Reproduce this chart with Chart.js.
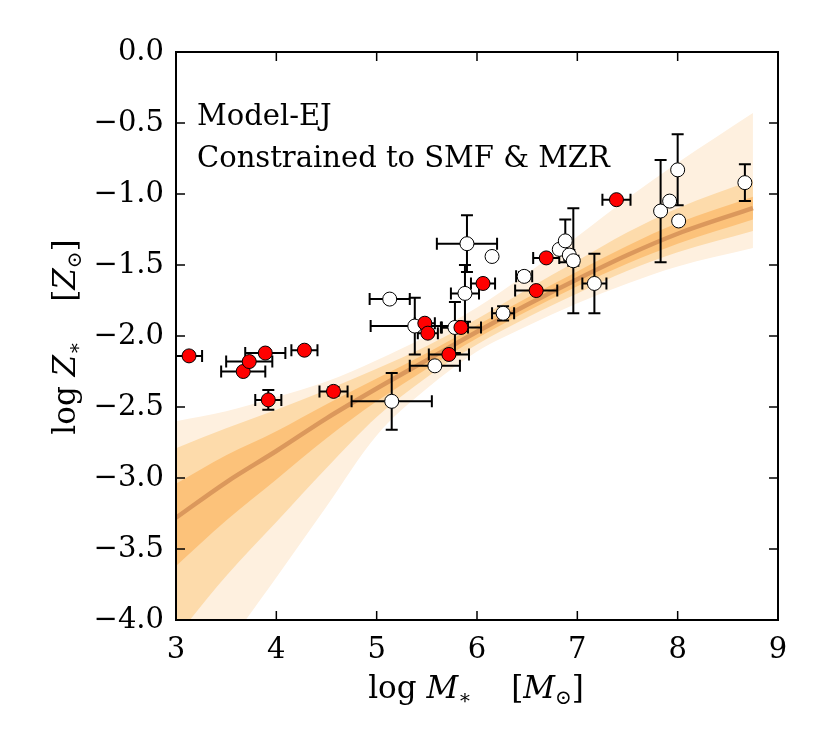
<!DOCTYPE html>
<html>
<head>
<meta charset="utf-8">
<script src="https://cdn.jsdelivr.net/npm/chart.js@4"></script>
<style>
body{margin:0;background:#fff;}
canvas{display:block;}
</style>
</head>
<body>
<canvas id="c" width="825" height="750"></canvas>
<script>
// model band, sampled along log M*
const bandX  = [3, 3.5, 4, 4.5, 5, 5.5, 6, 6.5, 7, 7.5, 8, 8.75];
const median = [-3.28, -3.03, -2.81, -2.58, -2.37, -2.17, -1.97, -1.78, -1.60, -1.43, -1.28, -1.10];
const sig1Hi = [-3.04, -2.84, -2.67, -2.48, -2.30, -2.12, -1.925, -1.73, -1.545, -1.365, -1.205, -1.02];
const sig1Lo = [-3.62, -3.30, -3.01, -2.72, -2.46, -2.23, -2.015, -1.825, -1.65, -1.49, -1.35, -1.18];
const sig2Hi = [-2.79, -2.65, -2.52, -2.38, -2.23, -2.07, -1.88, -1.67, -1.47, -1.27, -1.10, -0.90];
const sig2Lo = [-4.12, -3.69, -3.31, -2.93, -2.57, -2.29, -2.06, -1.87, -1.70, -1.54, -1.41, -1.26];
const sig3Hi = [-2.60, -2.53, -2.43, -2.32, -2.17, -2.00, -1.80, -1.56, -1.30, -1.03, -0.78, -0.43];
const sig3Lo = [-4.78, -4.20, -3.70, -3.20, -2.70, -2.37, -2.11, -1.93, -1.77, -1.63, -1.51, -1.38];

// open circles
const whiteX    = [5.15, 5.38, 5.13, 5.58, 5.78, 5.90, 5.88, 6.15, 6.26, 6.47, 6.82, 6.88, 6.92, 6.96, 7.17, 7.83, 7.92, 8.00, 8.01, 8.67];
const whiteY    = [-2.46, -1.93, -1.74, -2.21, -1.94, -1.35, -1.70, -1.44, -1.84, -1.58, -1.39, -1.33, -1.43, -1.47, -1.63, -1.12, -1.05, -0.83, -1.19, -0.92];
const whiteXErr = [0.40, 0.44, 0.20, 0.25, 0.13, 0.30, 0.14, 0, 0.11, 0.08, 0, 0, 0.05, 0.05, 0.12, 0, 0, 0, 0.03, 0];
const whiteYErr = [0.20, 0.20, 0, 0, 0.18, 0.20, 0.20, 0, 0.05, 0.03, 0, 0.15, 0, 0.37, 0.21, 0.36, 0, 0.25, 0.02, 0.13];

// red circles
const redX    = [3.13, 3.67, 3.73, 3.89, 3.92, 4.28, 4.57, 5.48, 5.51, 5.84, 5.72, 6.06, 6.59, 6.69, 7.39];
const redY    = [-2.14, -2.25, -2.18, -2.12, -2.45, -2.10, -2.39, -1.91, -1.98, -1.94, -2.13, -1.63, -1.68, -1.45, -1.04];
const redXErr = [0.13, 0.22, 0.23, 0.20, 0.13, 0.13, 0.14, 0.10, 0.10, 0.20, 0.20, 0.12, 0.21, 0.13, 0.14];
const redYErr = [0.02, 0, 0, 0.02, 0.07, 0.02, 0.03, 0, 0, 0, 0, 0, 0, 0, 0];

const SERIF = "'DejaVu Serif', serif";

function pts(xs, ys){
    return xs.map((x, i) => ({x: x, y: ys[i]}));
}

function band(ys, color, fill, order){
    return {
        data: pts(bandX, ys),
        borderWidth: 0,
        pointRadius: 0,
        backgroundColor: color,
        fill: fill,
        cubicInterpolationMode: 'monotone',
        order: order
    };
}

function drawErrors(ctx, xs, ys, xe, ye, sx, sy){
    const cap = 6;
    ctx.strokeStyle = '#000';
    ctx.lineWidth = 2;
    for(let i=0;i<xs.length;i++){
        const px = sx.getPixelForValue(xs[i]);
        const py = sy.getPixelForValue(ys[i]);
        ctx.beginPath();
        if(xe[i] > 0){
            const a = sx.getPixelForValue(xs[i]-xe[i]);
            const b = sx.getPixelForValue(xs[i]+xe[i]);
            ctx.moveTo(a, py); ctx.lineTo(b, py);
            ctx.moveTo(a, py-cap); ctx.lineTo(a, py+cap);
            ctx.moveTo(b, py-cap); ctx.lineTo(b, py+cap);
        }
        if(ye[i] > 0){
            const a = sy.getPixelForValue(ys[i]-ye[i]);
            const b = sy.getPixelForValue(ys[i]+ye[i]);
            ctx.moveTo(px, a); ctx.lineTo(px, b);
            ctx.moveTo(px-cap, a); ctx.lineTo(px+cap, a);
            ctx.moveTo(px-cap, b); ctx.lineTo(px+cap, b);
        }
        ctx.stroke();
    }
}

const errorBars = {
    id: 'errorBars',
    beforeDatasetDraw(chart, args){
        if(args.index !== 7) return;
        const ctx = chart.ctx;
        ctx.save();
        drawErrors(ctx, whiteX, whiteY, whiteXErr, whiteYErr, chart.scales.x, chart.scales.y);
        drawErrors(ctx, redX, redY, redXErr, redYErr, chart.scales.x, chart.scales.y);
        ctx.restore();
    }
};

// runs of text: [string, font, dy]
function drawRuns(ctx, runs, cx, cy){
    let w = 0;
    runs.forEach(r => { ctx.font = r[1]; w += ctx.measureText(r[0]).width; });
    let x = cx - w/2;
    runs.forEach(r => {
        ctx.font = r[1];
        ctx.fillText(r[0], x, cy + (r[2]||0));
        x += ctx.measureText(r[0]).width;
    });
}

const frame = {
    id: 'frame',
    afterDraw(chart){
        const ctx = chart.ctx;
        const a = chart.chartArea;
        const sx = chart.scales.x, sy = chart.scales.y;
        ctx.save();
        ctx.strokeStyle = '#000';
        ctx.lineWidth = 1.5;
        const t = 9;
        ctx.beginPath();
        sx.ticks.forEach(tk => {
            const p = sx.getPixelForValue(tk.value);
            ctx.moveTo(p, a.bottom); ctx.lineTo(p, a.bottom - t);
            ctx.moveTo(p, a.top); ctx.lineTo(p, a.top + t);
        });
        sy.ticks.forEach(tk => {
            const p = sy.getPixelForValue(tk.value);
            ctx.moveTo(a.left, p); ctx.lineTo(a.left + t, p);
            ctx.moveTo(a.right, p); ctx.lineTo(a.right - t, p);
        });
        ctx.stroke();
        ctx.lineWidth = 2;
        ctx.strokeRect(a.left, a.top, a.right - a.left, a.bottom - a.top);

        ctx.fillStyle = '#000';
        ctx.textBaseline = 'alphabetic';
        ctx.textAlign = 'left';
        ctx.font = '29px ' + SERIF;
        ctx.fillText('Model-EJ', 197, 125);
        ctx.fillText('Constrained to SMF & MZR', 197, 167);

        const big = '31px ' + SERIF, it = 'italic 31px ' + SERIF, sm = '20px ' + SERIF;
        drawRuns(ctx, [['log ', big], ['M', it], ['\u2217', sm, 6], ['    [', big], ['M', it], ['\u2299', sm, 6], [']', big]], 476, 698);

        ctx.translate(75, 337);
        ctx.rotate(-Math.PI/2);
        drawRuns(ctx, [['log ', big], ['Z', it], ['\u2217', sm, 6], ['    [', big], ['Z', it], ['\u2299', sm, 6], [']', big]], 0, 0);
        ctx.restore();
    }
};

new Chart(document.getElementById('c'), {
    type: 'line',
    data: {
        datasets: [
            band(sig3Hi, '#fef0df', '+1', 20),
            band(sig3Lo, '#fef0df', false, 19),
            band(sig2Hi, '#fddbab', '+1', 18),
            band(sig2Lo, '#fddbab', false, 17),
            band(sig1Hi, '#fcc27a', '+1', 16),
            band(sig1Lo, '#fcc27a', false, 15),
            {
                data: pts(bandX, median),
                borderColor: '#db985c',
                borderWidth: 4.5,
                pointRadius: 0,
                fill: false,
                cubicInterpolationMode: 'monotone',
                order: 14
            },
            {
                data: pts(whiteX, whiteY),
                showLine: false,
                pointRadius: 7,
                pointBackgroundColor: '#ffffff',
                pointBorderColor: '#000',
                pointBorderWidth: 1,
                order: 2
            },
            {
                data: pts(redX, redY),
                showLine: false,
                pointRadius: 7,
                pointBackgroundColor: '#ff0000',
                pointBorderColor: '#000',
                pointBorderWidth: 1,
                order: 1
            }
        ]
    },
    options: {
        responsive: false,
        animation: false,
        layout: { padding: { left: 0, top: 52, right: 47, bottom: 0 } },
        plugins: { legend: { display: false }, tooltip: { enabled: false } },
        scales: {
            x: {
                type: 'linear', min: 3, max: 9,
                grid: { display: false, drawTicks: false },
                border: { display: false },
                ticks: { stepSize: 1, color: '#000', padding: 13, font: { family: SERIF, size: 29 } },
                afterFit(s){ s.height = 130; }
            },
            y: {
                type: 'linear', min: -4, max: 0,
                grid: { display: false, drawTicks: false },
                border: { display: false },
                ticks: {
                    stepSize: 0.5, color: '#000', padding: 12,
                    font: { family: SERIF, size: 29 },
                    callback: v => (Math.abs(v) < 1e-9 ? 0 : v).toFixed(1).replace('-', '\u2212')
                },
                afterFit(s){ s.width = 176; }
            }
        }
    },
    plugins: [errorBars, frame]
});
</script>
</body>
</html>
